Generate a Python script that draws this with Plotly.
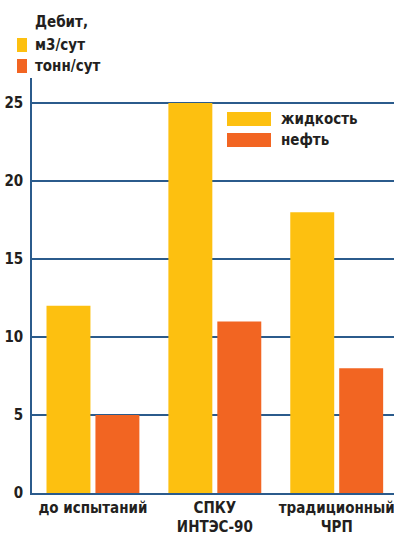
import plotly.graph_objects as go

categories = ["до испытаний", "СПКУ<br>ИНТЭС-90", "традиционный<br>ЧРП"]
liquid = [12, 25, 18]
oil = [5, 11, 8]
series_names = ["жидкость", "нефть"]
unit_title = "Дебит,"
unit_labels = ["м3/сут", "тонн/сут"]
yticks = [0, 5, 10, 15, 20, 25]

YELLOW = "#FDC010"
ORANGE = "#F26522"
AXIS = "#2B5B8C"
TXT = "#231F20"
FONT = "Liberation Sans Narrow, DejaVu Sans Condensed, Arial Narrow, sans-serif"

fig = go.Figure()
fig.add_bar(x=categories, y=liquid, name=series_names[0], marker_color=YELLOW, marker_line_width=0)
fig.add_bar(x=categories, y=oil, name=series_names[1], marker_color=ORANGE, marker_line_width=0)

W, H = 394, 538
ML, MR, MT, MB = 32, 0, 78, 45
PW, PH = W - ML - MR, H - MT - MB
def px(x):
    return (x - ML) / PW
def py(y):
    return (H - MB - y) / PH

shapes = []
annotations = []
# left unit legend
annotations.append(dict(xref="paper", yref="paper", x=px(33), y=py(22), text="<b>" + unit_title + "</b>",
                        showarrow=False, xanchor="left", yanchor="middle",
                        font=dict(family=FONT, size=15, color=TXT)))
for i, (lab, col) in enumerate(zip(unit_labels, [YELLOW, ORANGE])):
    yc = 45 + i * 21
    shapes.append(dict(type="rect", xref="paper", yref="paper", x0=px(17), x1=px(27),
                       y0=py(yc - 7), y1=py(yc + 7), fillcolor=col, line_width=0))
    annotations.append(dict(xref="paper", yref="paper", x=px(33), y=py(yc), text="<b>" + lab + "</b>",
                            showarrow=False, xanchor="left", yanchor="middle",
                            font=dict(family=FONT, size=15, color=TXT)))
# right series legend
for i, (lab, col) in enumerate(zip(series_names, [YELLOW, ORANGE])):
    yc = 119 + i * 21
    shapes.append(dict(type="rect", xref="paper", yref="paper", x0=px(227), x1=px(271),
                       y0=py(yc - 7), y1=py(yc + 7), fillcolor=col, line_width=0))
    annotations.append(dict(xref="paper", yref="paper", x=px(279), y=py(yc), text="<b>" + lab + "</b>",
                            showarrow=False, xanchor="left", yanchor="middle",
                            font=dict(family=FONT, size=15, color=TXT)))

fig.update_layout(
    width=W, height=H,
    margin=dict(l=ML, r=MR, t=MT, b=MB),
    paper_bgcolor="white", plot_bgcolor="white",
    barmode="group", bargap=0.197, bargroupgap=0.102,
    showlegend=False,
    font=dict(family=FONT, size=15, color=TXT),
    shapes=shapes, annotations=annotations,
    xaxis=dict(type="category", range=[-0.5, 2.47], showline=True, linecolor=AXIS, linewidth=1.5,
               ticks="", showgrid=False, tickfont=dict(family=FONT, size=15, color=TXT),
               ticktext=["<b>" + c + "</b>" for c in categories], tickvals=categories),
    yaxis=dict(range=[0, 26.6], tickvals=yticks, ticktext=["<b>%d</b>" % v for v in yticks],
               showline=True, linecolor=AXIS, linewidth=1.5, showgrid=True, gridcolor=AXIS, gridwidth=1.5,
               zeroline=False, ticks="outside", ticklen=4, tickcolor="rgba(0,0,0,0)",
               tickfont=dict(family=FONT, size=15, color=TXT)),
)
fig.write_html("out.html")
